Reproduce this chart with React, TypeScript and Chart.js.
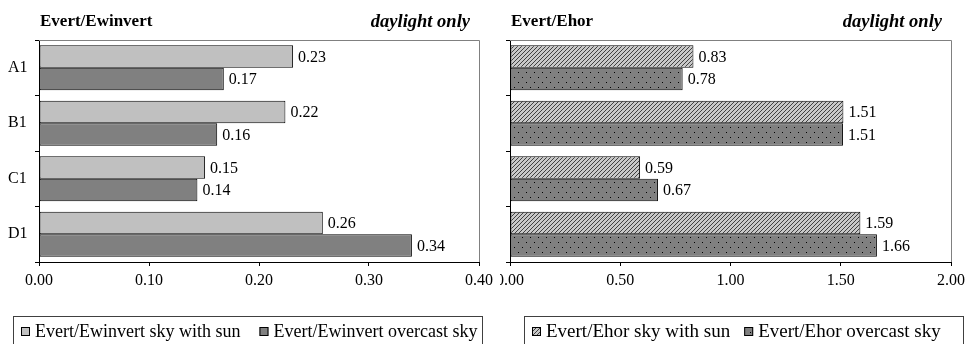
import React, { useEffect, useRef } from 'react';
import { Chart, registerables } from 'chart.js';

Chart.register(...registerables);

// ---- data ----
const categories = ['A1', 'B1', 'C1', 'D1'];
const ewinvertSun = [0.231, 0.224, 0.151, 0.258];
const ewinvertOvercast = [0.168, 0.162, 0.144, 0.339];
const ehorSun = [0.832, 1.512, 0.59, 1.589];
const ehorOvercast = [0.783, 1.51, 0.671, 1.664];
const leftAxis = { min: 0, max: 0.4, step: 0.1 };
const rightAxis = { min: 0, max: 2.0, step: 0.5 };
const leftLabels = ['Evert/Ewinvert sky with sun', 'Evert/Ewinvert overcast sky'];
const rightLabels = ['Evert/Ehor sky with sun', 'Evert/Ehor overcast sky'];
const leftTitle = 'Evert/Ewinvert';
const rightTitle = 'Evert/Ehor';
const noteText = 'daylight only';

const FONT = "'Liberation Serif', 'Times New Roman', Times, serif";

function makeHatch(): CanvasPattern | string {
  const c = document.createElement('canvas');
  c.width = 4;
  c.height = 4;
  const x = c.getContext('2d');
  if (!x) return '#a0a0a0';
  x.fillStyle = '#c8c8c8';
  x.fillRect(0, 0, 4, 4);
  x.fillStyle = '#404040';
  for (let i = 0; i < 4; i++) x.fillRect(i, 3 - i, 1, 1);
  return x.createPattern(c, 'repeat') || '#a0a0a0';
}

function makeDots(): CanvasPattern | string {
  const c = document.createElement('canvas');
  c.width = 8;
  c.height = 10;
  const x = c.getContext('2d');
  if (!x) return '#808080';
  x.fillStyle = '#808080';
  x.fillRect(0, 0, 8, 10);
  x.fillStyle = '#000000';
  x.fillRect(2, 2, 1, 1);
  x.fillRect(6, 7, 1, 1);
  return x.createPattern(c, 'repeat') || '#808080';
}

const panelPlugin = {
  id: 'panel',
  beforeDatasetsDraw(chart: any) {
    const { ctx, chartArea } = chart;
    ctx.save();
    ctx.strokeStyle = '#808080';
    ctx.lineWidth = 1;
    ctx.beginPath();
    ctx.moveTo(chartArea.left, chartArea.top + 0.5);
    ctx.lineTo(chartArea.right + 0.5, chartArea.top + 0.5);
    ctx.lineTo(chartArea.right + 0.5, chartArea.bottom);
    ctx.stroke();
    ctx.restore();
  },
  afterDatasetsDraw(chart: any) {
    const { ctx } = chart;
    ctx.save();
    ctx.font = `16px ${FONT}`;
    ctx.fillStyle = '#000';
    ctx.textAlign = 'left';
    ctx.textBaseline = 'middle';
    chart.data.datasets.forEach((ds: any, i: number) => {
      const meta = chart.getDatasetMeta(i);
      meta.data.forEach((el: any, j: number) => {
        const v = ds.data[j] as number;
        ctx.fillText(v.toFixed(2), el.x + 5, el.y + 1);
      });
    });
    ctx.restore();
  },
  afterDraw(chart: any, _args: any, opts: any) {
    const { ctx, chartArea } = chart;
    ctx.save();
    // titles
    ctx.fillStyle = '#000';
    ctx.textBaseline = 'middle';
    ctx.font = `bold 17px ${FONT}`;
    ctx.textAlign = 'left';
    ctx.fillText(opts.title, chartArea.left + 1, 22);
    ctx.font = `italic bold 18.5px ${FONT}`;
    ctx.textAlign = 'right';
    ctx.fillText(opts.note, chartArea.right - 9, 22);

    // legend
    const box = opts.box;
    ctx.strokeStyle = '#404040';
    ctx.lineWidth = 1;
    ctx.strokeRect(box.left + 0.5, box.top + 0.5, box.right - box.left, 60);
    ctx.font = `${opts.legendSize}px ${FONT}`;
    ctx.textAlign = 'left';
    ctx.textBaseline = 'middle';
    let x = box.left + 8;
    const cy = box.top + 15.5;
    chart.data.datasets.forEach((ds: any) => {
      ctx.fillStyle = ds.backgroundColor;
      ctx.fillRect(x, cy - 4.5, 9, 9);
      ctx.strokeStyle = '#000';
      ctx.strokeRect(x + 0.5, cy - 4, 8, 8);
      ctx.fillStyle = '#000';
      ctx.fillText(ds.label, x + 14, cy + 1);
      x += 14 + ctx.measureText(ds.label).width + opts.legendGap;
    });
    ctx.restore();
  },
};

function buildConfig(
  sun: number[],
  overcast: number[],
  labels: string[],
  axis: { min: number; max: number; step: number },
  sunFill: any,
  overcastFill: any,
  side: 'left' | 'right',
  title: string,
  box: { left: number; top: number; right: number }
): any {
  const isLeft = side === 'left';
  return {
    type: 'bar',
    data: {
      labels: categories,
      datasets: [
        {
          label: labels[0],
          data: sun,
          backgroundColor: sunFill,
          borderColor: '#000',
          borderWidth: 1,
          borderSkipped: false,
          categoryPercentage: 0.81,
          barPercentage: 1.0,
        },
        {
          label: labels[1],
          data: overcast,
          backgroundColor: overcastFill,
          borderColor: '#000',
          borderWidth: 1,
          borderSkipped: false,
          categoryPercentage: 0.81,
          barPercentage: 1.0,
        },
      ],
    },
    options: {
      indexAxis: 'y',
      responsive: false,
      animation: false,
      devicePixelRatio: 1,
      layout: {
        padding: isLeft
          ? { left: 8, right: 21, top: 40, bottom: 52 }
          : { left: 0, right: 16, top: 40, bottom: 52 },
      },
      plugins: {
        legend: { display: false },
        tooltip: { enabled: false },
        title: { display: false },
        panel: {
          title,
          note: noteText,
          box,
          legendSize: isLeft ? 18 : 19,
          legendGap: isLeft ? 19 : 14,
        },
      },
      scales: {
        x: {
          type: 'linear',
          min: axis.min,
          max: axis.max,
          ticks: {
            stepSize: axis.step,
            color: '#000',
            font: { family: FONT, size: 16 },
            padding: 5,
            maxRotation: 0,
            callback: (v: any) => Number(v).toFixed(2),
          },
          grid: {
            drawOnChartArea: false,
            drawTicks: true,
            tickLength: 4,
            color: '#000',
          },
          border: { display: true, color: '#000', width: 1 },
          afterFit: (s: any) => {
            s.height = 30;
            s.paddingLeft = 0;
            s.paddingRight = 0;
          },
        },
        y: {
          type: 'category',
          offset: true,
          ticks: {
            color: '#000',
            font: { family: FONT, size: 16 },
            crossAlign: 'far',
            callback: function (this: any, v: any) {
              return isLeft ? this.getLabelForValue(v) : '';
            },
          },
          grid: {
            offset: true,
            drawOnChartArea: false,
            drawTicks: true,
            tickLength: 4,
            color: '#000',
          },
          border: { display: true, color: '#000', width: 1 },
          afterFit: (s: any) => {
            s.width = isLeft ? 31 : 10;
            s.paddingTop = 0;
            s.paddingBottom = 0;
          },
        },
      },
    },
    plugins: [panelPlugin],
  };
}

export default function App() {
  const leftRef = useRef<HTMLCanvasElement | null>(null);
  const rightRef = useRef<HTMLCanvasElement | null>(null);

  useEffect(() => {
    if (!leftRef.current || !rightRef.current) return;
    const hatch = makeHatch();
    const dots = makeDots();
    const left = new Chart(
      leftRef.current,
      buildConfig(ewinvertSun, ewinvertOvercast, leftLabels, leftAxis, '#c0c0c0', '#808080', 'left', leftTitle, {
        left: 13,
        top: 316,
        right: 482,
      })
    );
    const right = new Chart(
      rightRef.current,
      buildConfig(ehorSun, ehorOvercast, rightLabels, rightAxis, hatch, dots, 'right', rightTitle, {
        left: 24,
        top: 316,
        right: 463,
      })
    );
    return () => {
      left.destroy();
      right.destroy();
    };
  }, []);

  return (
    <div style={{ position: 'absolute', left: 0, top: 0, width: 967, height: 344, background: '#fff', overflow: 'hidden' }}>
      <canvas
        ref={leftRef}
        width={500}
        height={344}
        style={{ position: 'absolute', left: 0, top: 0, width: 500, height: 344 }}
      />
      <canvas
        ref={rightRef}
        width={467}
        height={344}
        style={{ position: 'absolute', left: 500, top: 0, width: 467, height: 344 }}
      />
    </div>
  );
}
